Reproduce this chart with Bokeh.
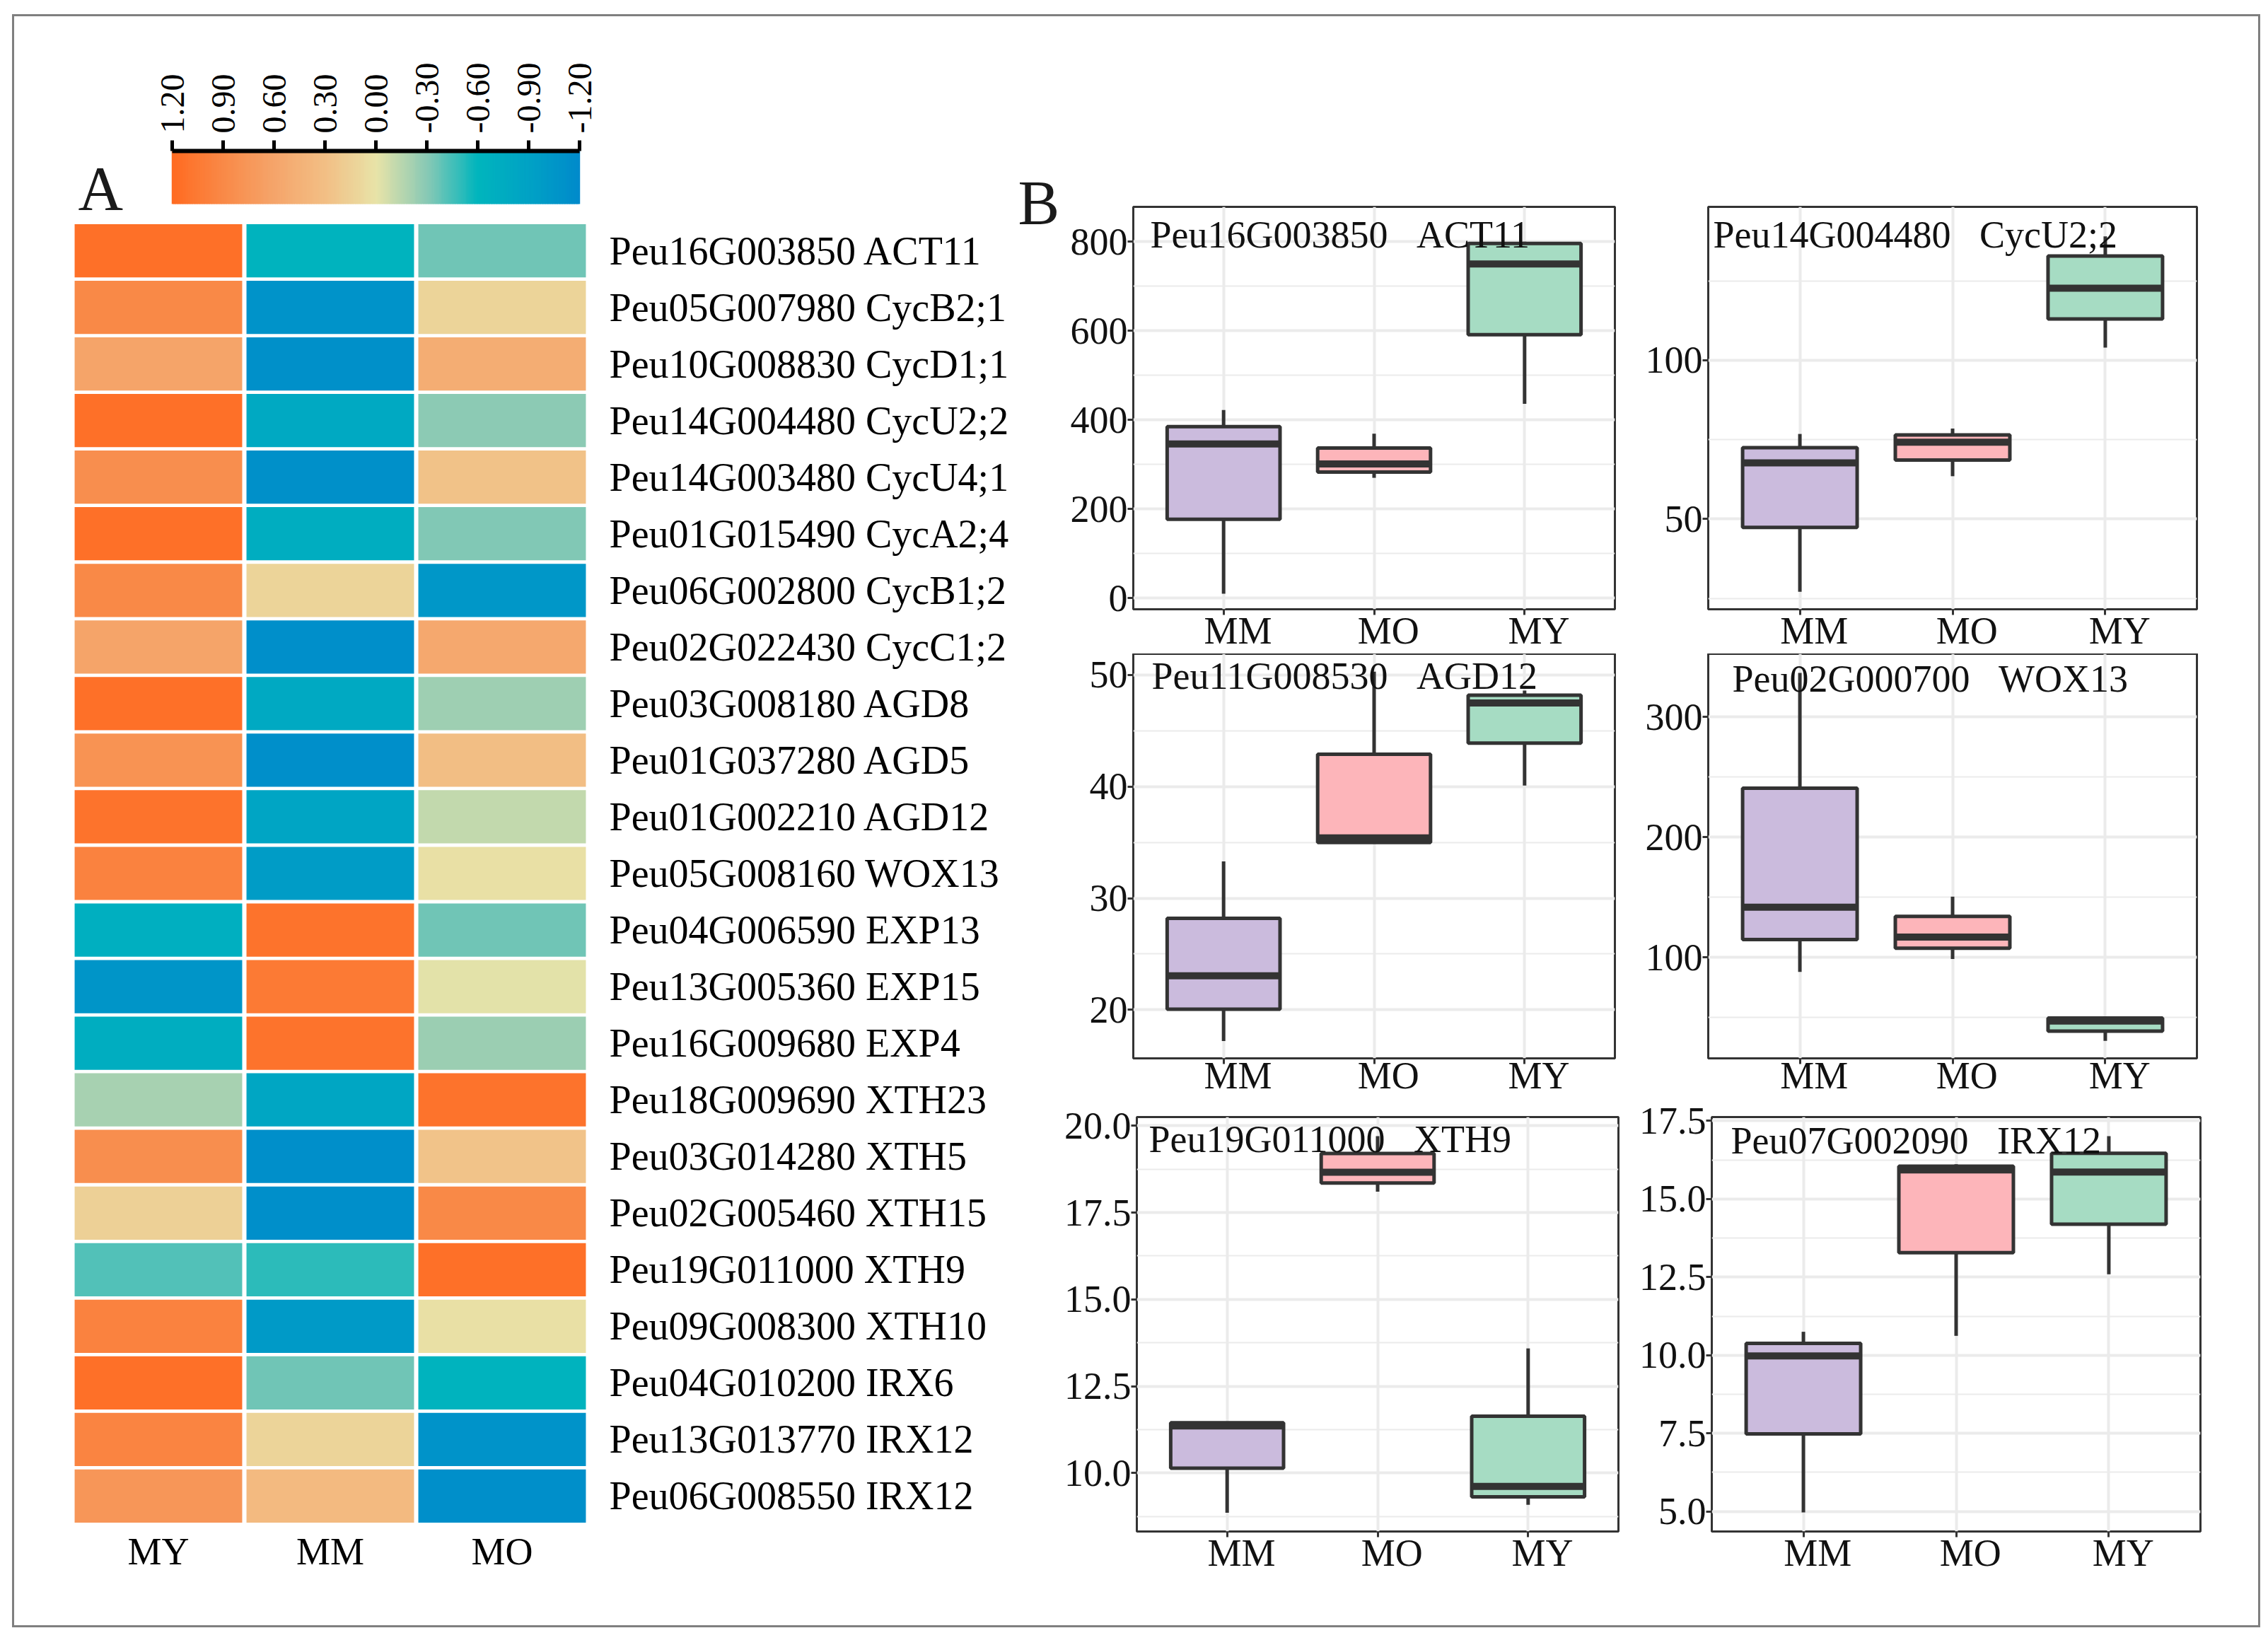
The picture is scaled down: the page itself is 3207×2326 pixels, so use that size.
import math
import numpy as np
from bokeh.plotting import figure
from bokeh.models import (ColumnDataSource, Range1d, FactorRange, FixedTicker,
                          PrintfTickFormatter, Label, Spacer)
from bokeh.layouts import row, column
from bokeh.transform import linear_cmap, dodge
from bokeh.embed import file_html
from bokeh.resources import INLINE

FONT = "Liberation Serif"

# ---------------- heatmap data (row z-scores) ----------------
heat_cols = ["MY", "MM", "MO"]
genes = [
    "Peu16G003850 ACT11", "Peu05G007980 CycB2;1", "Peu10G008830 CycD1;1",
    "Peu14G004480 CycU2;2", "Peu14G003480 CycU4;1", "Peu01G015490 CycA2;4",
    "Peu06G002800 CycB1;2", "Peu02G022430 CycC1;2", "Peu03G008180 AGD8",
    "Peu01G037280 AGD5", "Peu01G002210 AGD12", "Peu05G008160 WOX13",
    "Peu04G006590 EXP13", "Peu13G005360 EXP15", "Peu16G009680 EXP4",
    "Peu18G009690 XTH23", "Peu03G014280 XTH5", "Peu02G005460 XTH15",
    "Peu19G011000 XTH9", "Peu09G008300 XTH10", "Peu04G010200 IRX6",
    "Peu13G013770 IRX12", "Peu06G008550 IRX12"]
z_MY = [1.15, 0.90, 0.61, 1.15, 0.85, 1.15, 0.90, 0.61, 1.15, 0.80, 1.12, 0.97,
        -0.70, -1.05, -0.73, -0.20, 0.85, 0.15, -0.42, 0.97, 1.15, 0.95, 0.76]
z_MM = [-0.63, -1.08, -1.12, -0.78, -1.12, -0.72, 0.13, -1.13, -0.78, -1.13, -0.85, -0.97,
        1.12, 1.05, 1.12, -0.84, -1.13, -1.13, -0.50, -1.00, -0.35, 0.13, 0.36]
z_MO = [-0.35, 0.13, 0.50, -0.29, 0.28, -0.31, -1.04, 0.57, -0.23, 0.30, -0.12, 0.02,
        -0.35, -0.01, -0.24, 1.12, 0.27, 0.90, 1.15, 0.02, -0.63, -1.08, -1.13]

cbar_ticks = [1.2, 0.9, 0.6, 0.3, 0.0, -0.3, -0.6, -0.9, -1.2]
cbar_low, cbar_high = -1.2, 1.2
cmap_anchors = ["#008ACB", "#00A2C5", "#00B5BD", "#88C9B5", "#E8E3A8",
                "#F2BF85", "#F5A56B", "#F98A48", "#FF6B22"]

# ---------------- box plot data (five-number summaries: MM, MO, MY) ----------------
box_groups = ["MM", "MO", "MY"]
box_colors = ["#CBBBDD", "#FDB5BA", "#A6DCC3"]

act11_lo = [10, 270, 436]
act11_q1 = [177, 283, 591]
act11_med = [346, 301, 750]
act11_q3 = [385, 337, 796]
act11_hi = [422, 369, 800]

cycu22_lo = [27.1, 63.5, 104.0]
cycu22_q1 = [47.4, 68.6, 113.0]
cycu22_med = [67.7, 74.2, 122.7]
cycu22_q3 = [72.5, 76.5, 132.8]
cycu22_hi = [76.8, 78.5, 139.0]

agd12_lo = [17.2, 35.0, 40.1]
agd12_q1 = [20.06, 35.0, 43.9]
agd12_med = [23.05, 35.4, 47.5]
agd12_q3 = [28.2, 42.9, 48.2]
agd12_hi = [33.3, 50.3, 48.6]

wox13_lo = [87.9, 98.7, 30.6]
wox13_q1 = [114.9, 107.6, 38.6]
wox13_med = [141.7, 116.9, 47.0]
wox13_q3 = [240.7, 134.1, 49.5]
wox13_hi = [336.6, 150.5, 49.5]

xth9_lo = [8.86, 18.10, 9.09]
xth9_q1 = [10.14, 18.35, 9.32]
xth9_med = [11.36, 18.66, 9.62]
xth9_q3 = [11.45, 19.20, 11.64]
xth9_hi = [11.45, 19.70, 13.59]

irx12_lo = [4.97, 10.62, 12.59]
irx12_q1 = [7.48, 13.28, 14.19]
irx12_med = [9.98, 15.93, 15.86]
irx12_q3 = [10.38, 16.05, 16.46]
irx12_hi = [10.75, 16.11, 17.01]

box_ids = ["Peu16G003850", "Peu14G004480", "Peu11G008530", "Peu02G000700", "Peu19G011000", "Peu07G002090"]
box_names = ["ACT11", "CycU2;2", "AGD12", "WOX13", "XTH9", "IRX12"]

y_ranges = [(-25, 878), (21.6, 148.3), (15.65, 51.9), (16, 352.5), (8.32, 20.25), (4.36, 17.62)]
y_ticks = [[0, 200, 400, 600, 800], [50, 100], [20, 30, 40, 50], [100, 200, 300],
           [10, 12.5, 15, 17.5, 20], [5, 7.5, 10, 12.5, 15, 17.5]]
y_minor = [[100, 300, 500, 700], [25, 75, 125], [25, 35, 45], [50, 150, 250],
           [8.75, 11.25, 13.75, 16.25, 18.75], [6.25, 8.75, 11.25, 13.75, 16.25]]
y_fmt = ["%d", "%d", "%d", "%d", "%.1f", "%.1f"]


def interp_palette(anchors, n=256):
    rgb = np.array([[int(a[i:i + 2], 16) for i in (1, 3, 5)] for a in anchors], float)
    pos = np.linspace(0, 1, len(anchors))
    out = []
    for t in np.linspace(0, 1, n):
        c = [int(round(np.interp(t, pos, rgb[:, k]))) for k in range(3)]
        out.append("#%02x%02x%02x" % tuple(c))
    return out


palette = interp_palette(cmap_anchors)

# ---------------- left column geometry (pixels) ----------------
LEFT_W = 1405
HM_BL, HM_FW = 82, 729
HM_BR = LEFT_W - HM_BL - HM_FW
CB_BAR_W, CB_PAD_L, CB_PAD_R = 576, 141, 12  # bar width and gaps inside the shared frame
CB_BAR_H, CB_BELOW = 75, 25
cb_ppu = CB_BAR_W / (cbar_high - cbar_low)

# ---------------- colour bar ----------------
cp = figure(x_range=Range1d(cbar_high + CB_PAD_L / cb_ppu, cbar_low - CB_PAD_R / cb_ppu),
            y_range=Range1d(-CB_BELOW / CB_BAR_H, 1),
            frame_width=HM_FW, frame_height=CB_BAR_H + CB_BELOW,
            min_border_left=HM_BL, min_border_right=HM_BR, min_border_top=190, min_border_bottom=0,
            x_axis_location="above", y_axis_location=None,
            output_backend="svg", toolbar_location=None,
            outline_line_color=None, border_fill_color=None, background_fill_color=None)
step = 0.01
cb_vals = list(np.arange(cbar_low + step / 2, cbar_high, step))
cp.rect(x="v", y=0.5, width=step * 1.6, height=1,
        source=ColumnDataSource(dict(v=cb_vals)),
        fill_color=linear_cmap("v", palette, cbar_low, cbar_high), line_color=None)
cp.grid.grid_line_color = None
ax = cp.xaxis[0]
ax.ticker = FixedTicker(ticks=cbar_ticks)
ax.formatter = PrintfTickFormatter(format="%.2f")
ax.bounds = (cbar_low, cbar_high)
ax.axis_line_color = "black"
ax.axis_line_width = 6
ax.major_tick_line_color = "black"
ax.major_tick_line_width = 5
ax.major_tick_out = 15
ax.major_tick_in = 0
ax.minor_tick_line_color = None
ax.major_label_orientation = math.pi / 2
ax.major_label_standoff = 10
ax.major_label_text_font = FONT
ax.major_label_text_font_size = "48px"
ax.major_label_text_color = "black"
cp.add_layout(Label(x=cp.x_range.start, y=cp.y_range.end, x_offset=8, y_offset=-4, text="A",
                    text_font=FONT, text_font_size="88px", text_color="#1a1a1a",
                    text_baseline="top"))

# ---------------- heatmap ----------------
hx, hy, hz = [], [], []
for col, vals in zip(heat_cols, [z_MY, z_MM, z_MO]):
    for g, v in zip(genes, vals):
        hx.append(col)
        hy.append(g)
        hz.append(v)

hp = figure(x_range=FactorRange(factors=heat_cols), y_range=FactorRange(factors=genes[::-1]),
            frame_width=HM_FW, frame_height=1841,
            min_border_left=HM_BL, min_border_right=HM_BR, min_border_top=1, min_border_bottom=83,
            y_axis_location="right", output_backend="svg", toolbar_location=None,
            outline_line_color=None, border_fill_color=None, background_fill_color=None)
hp.rect(x="x", y="y", width=0.975, height=0.94,
        source=ColumnDataSource(dict(x=hx, y=hy, z=hz)),
        fill_color=linear_cmap("z", palette, cbar_low, cbar_high), line_color=None)
hp.grid.grid_line_color = None
for a in (hp.xaxis[0], hp.yaxis[0]):
    a.axis_line_color = None
    a.major_tick_line_color = None
    a.minor_tick_line_color = None
    a.major_label_text_font = FONT
    a.major_label_text_color = "black"
hp.xaxis[0].major_label_text_font_size = "54px"
hp.yaxis[0].major_label_text_font_size = "56px"
hp.xaxis[0].major_label_standoff = 2
hp.yaxis[0].major_label_standoff = 24

# ---------------- panel letter B (own strip left of the box plots) ----------------
B_W, B_H = 72, 330
bp = figure(width=B_W, height=B_H, x_range=Range1d(0, B_W), y_range=Range1d(0, B_H),
            min_border_left=0, min_border_right=0, min_border_top=0, min_border_bottom=0,
            x_axis_location=None, y_axis_location=None,
            output_backend="svg", toolbar_location=None,
            outline_line_color=None, border_fill_color=None, background_fill_color=None)
bp.grid.grid_line_color = None
bp.add_layout(Label(x=10, y=B_H - 214, text="B", text_font=FONT, text_font_size="88px",
                    text_color="#1a1a1a", text_baseline="top"))

# ---------------- box plots ----------------
panel_data = [
    (act11_lo, act11_q1, act11_med, act11_q3, act11_hi),
    (cycu22_lo, cycu22_q1, cycu22_med, cycu22_q3, cycu22_hi),
    (agd12_lo, agd12_q1, agd12_med, agd12_q3, agd12_hi),
    (wox13_lo, wox13_q1, wox13_med, wox13_q3, wox13_hi),
    (xth9_lo, xth9_q1, xth9_med, xth9_q3, xth9_hi),
    (irx12_lo, irx12_q1, irx12_med, irx12_q3, irx12_hi),
]
LB = 173 - B_W
# layout: (frame_w, frame_h, left, right, top, bottom), x-label standoff, title offsets
panel_geom = [
    (681, 569, LB, 16, 269, 62), (691, 569, 116, 75, 269, 62),
    (681, 572, LB, 16, 0, 56), (691, 572, 116, 75, 0, 56),
    (681, 586, LB, 16, 26, 75), (691, 586, 116, 75, 26, 75),
]
x_standoff = [-8, -8, -14, -14, -8, -8]
title_off = [(24, 9), (7, 9), (26, 1), (34, 5), (17, 1), (27, 3)]

EDGE = "#333333"
GRID = "#EBEBEB"
NB = "\u00a0"
xpos = list(range(1, len(box_groups) + 1))
panels = []
for i in range(6):
    lo, q1, med, q3, hi = panel_data[i]
    fw, fh, bl, br, bt, bb = panel_geom[i]
    p = figure(x_range=Range1d(0.4, len(box_groups) + 0.6), y_range=Range1d(*y_ranges[i]),
               frame_width=fw, frame_height=fh,
               min_border_left=bl, min_border_right=br, min_border_top=bt, min_border_bottom=bb,
               output_backend="svg", toolbar_location=None,
               outline_line_color=EDGE, outline_line_width=3,
               border_fill_color=None, background_fill_color=None)
    src = ColumnDataSource(dict(x=xpos, lo=lo, q1=q1, med=med, q3=q3, hi=hi, color=box_colors))
    p.segment(x0="x", y0="q3", x1="x", y1="hi", source=src, line_color=EDGE, line_width=5)
    p.segment(x0="x", y0="lo", x1="x", y1="q1", source=src, line_color=EDGE, line_width=5)
    p.vbar(x="x", width=0.75, bottom="q1", top="q3", source=src,
           fill_color="color", line_color=EDGE, line_width=5)
    p.segment(x0=dodge("x", -0.375), y0="med", x1=dodge("x", 0.375), y1="med",
              source=src, line_color=EDGE, line_width=10)

    xa = p.xaxis[0]
    xa.ticker = FixedTicker(ticks=xpos)
    xa.major_label_overrides = {k: NB * 3 + g for k, g in zip(xpos, box_groups)}
    ya = p.yaxis[0]
    ya.ticker = FixedTicker(ticks=y_ticks[i], minor_ticks=y_minor[i])
    ya.formatter = PrintfTickFormatter(format=y_fmt[i])
    for a in (xa, ya):
        a.axis_line_color = None
        a.major_tick_line_color = EDGE
        a.major_tick_line_width = 3
        a.major_tick_out = 8
        a.major_tick_in = 0
        a.minor_tick_line_color = None
        a.major_label_text_font = FONT
        a.major_label_text_font_size = "54px"
        a.major_label_text_color = "#111111"
        a.major_label_standoff = 0
    xa.major_label_standoff = x_standoff[i]
    p.xgrid.grid_line_color = GRID
    p.xgrid.grid_line_width = 4
    p.ygrid.grid_line_color = GRID
    p.ygrid.grid_line_width = 4
    p.ygrid.minor_grid_line_color = GRID
    p.ygrid.minor_grid_line_width = 2

    dx, dy = title_off[i]
    p.add_layout(Label(x=0.4, y=y_ranges[i][1], x_offset=dx, y_offset=-dy,
                       text=box_ids[i] + NB * 3 + box_names[i],
                       text_font=FONT, text_font_size="54px", text_color="#111111",
                       text_baseline="top"))
    panels.append(p)

left_col = column(cp, hp)
grid_col = column(row(panels[0], panels[1]), row(panels[2], panels[3]), row(panels[4], panels[5]))
right_col = row(bp, grid_col)
body = row(left_col, right_col, Spacer(width=7, height=10))
page = column(body, Spacer(width=10, height=58), margin=(20, 0, 0, 17),
              styles={"border": "3px solid #7f7f7f"})

open("out.html", "w").write(file_html(page, INLINE))
